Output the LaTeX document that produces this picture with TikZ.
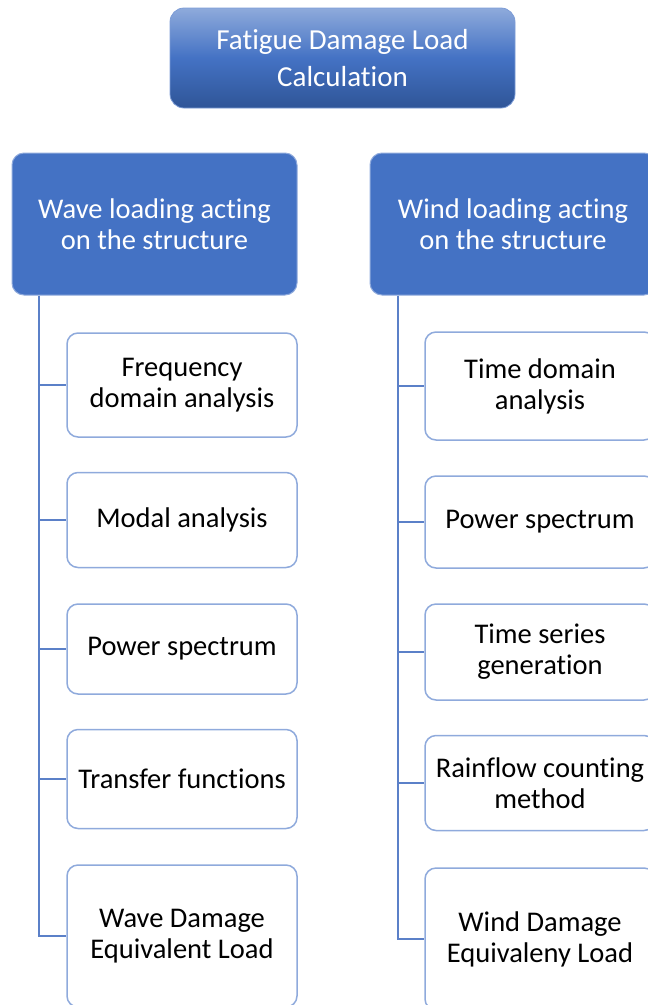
\documentclass[tikz,border=0pt]{standalone}
\usepackage{fontspec}
\setmainfont{Carlito}[Ligatures={NoCommon}]
\definecolor{hdr}{HTML}{4472C4}
\definecolor{bord}{HTML}{8FAADC}
\definecolor{conncol}{HTML}{5B80C8}
\definecolor{gtop}{HTML}{8EAADB}
\definecolor{gbot}{HTML}{2F5597}
\begin{document}
\begin{tikzpicture}[x=1pt,y=-1pt,
  topbox/.style={rounded corners=14pt, top color=gtop, bottom color=gbot, middle color=hdr, draw=hdr!70, line width=0.8pt,
    text=white, align=center, font=\fontsize{29}{37}\selectfont, minimum width=345pt, minimum height=100pt, inner sep=0pt},
  headbox/.style={rounded corners=12pt, fill=hdr, draw=bord, line width=1pt, text=white, align=center,
    font=\fontsize{28.5}{31}\selectfont, minimum height=142pt, inner sep=0pt},
  childbox/.style={rounded corners=11pt, fill=white, draw=bord, line width=1.5pt, text=black, align=center,
    font=\fontsize{28.5}{31}\selectfont, minimum width=230pt, inner sep=0pt},
  conn/.style={draw=conncol, line width=2pt}]
\useasboundingbox (0,0) rectangle (648,1005);
\clip (0,0) rectangle (648,1005);
\node[topbox] (top) at (342.5,58) {Fatigue Damage Load\\Calculation};
\node[headbox, minimum width=285pt] (hw) at (154.5,224) {Wave loading acting\\on the structure};
\node[headbox, minimum width=286pt] (hd) at (513,224) {Wind loading acting\\on the structure};
% left children
\node[childbox, minimum height=104pt] (w1) at (182,385) {Frequency\\domain analysis};
\node[childbox, minimum height=95pt] (w2) at (182,520) {Modal analysis};
\node[childbox, minimum height=90pt] (w3) at (182,649) {Power spectrum};
\node[childbox, minimum height=99pt] (w4) at (182,779) {Transfer functions};
\node[childbox, minimum height=142pt] (w5) at (182,936) {Wave Damage\\Equivalent Load};
% right children
\node[childbox, minimum height=108pt] (d1) at (540,386) {Time domain\\analysis};
\node[childbox, minimum height=92pt] (d2) at (540,522) {Power spectrum};
\node[childbox, minimum height=96pt] (d3) at (540,652) {Time series\\generation};
\node[childbox, minimum height=95pt] (d4) at (540,783) {Rainflow counting\\method};
\node[childbox, minimum height=142pt] (d5) at (540,939) {Wind Damage\\Equivaleny Load};
% connectors
\coordinate (lx) at (39,0);
\coordinate (rx) at (398,0);
\draw[conn] (lx |- hw.south) |- (w5.west);
\foreach \n in {w1,w2,w3,w4} \draw[conn] (lx |- \n.west) -- (\n.west);
\draw[conn] (rx |- hd.south) |- (d5.west);
\foreach \n in {d1,d2,d3,d4} \draw[conn] (rx |- \n.west) -- (\n.west);
\end{tikzpicture}
\end{document}
